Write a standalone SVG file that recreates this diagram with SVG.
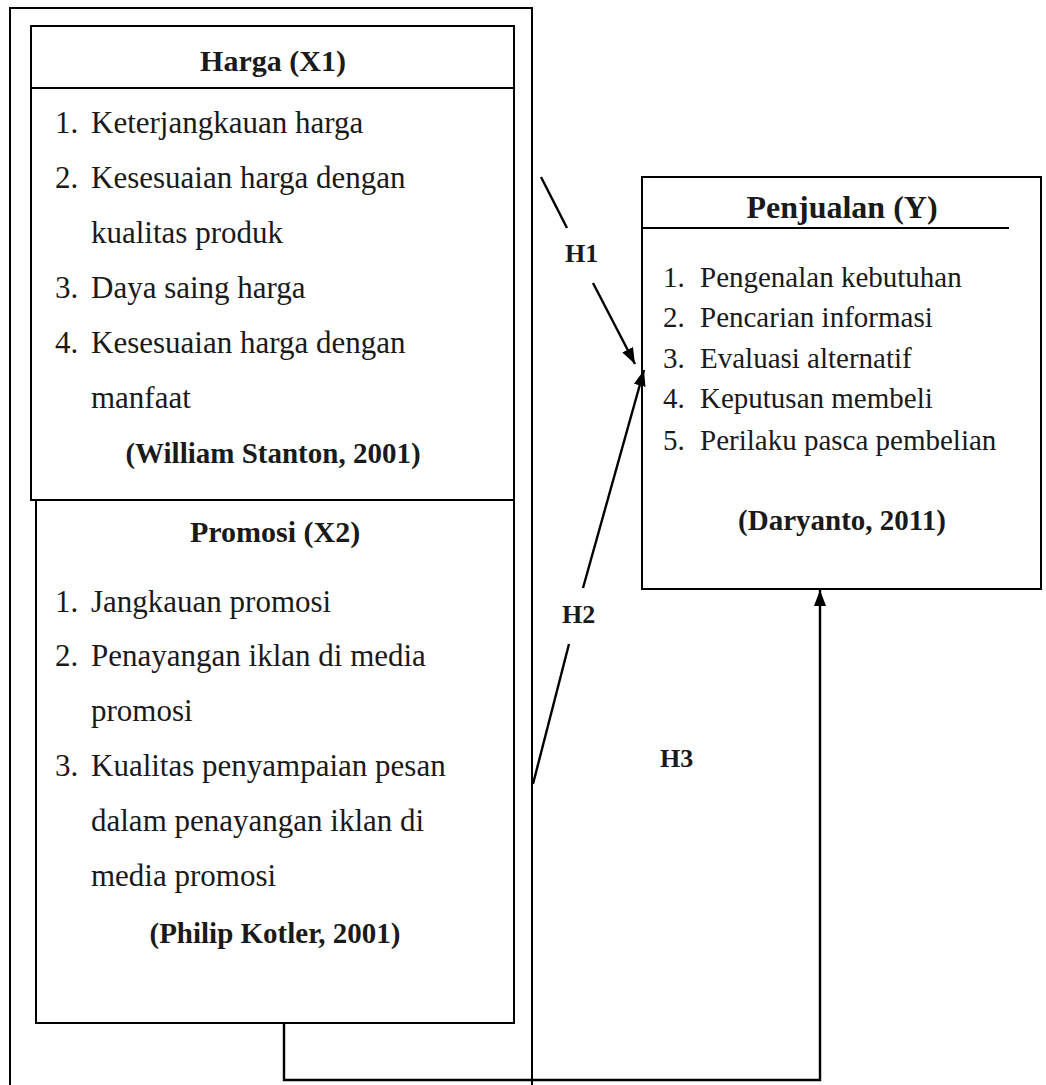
<svg xmlns="http://www.w3.org/2000/svg" width="1046" height="1085" viewBox="0 0 1046 1085">
<defs>
<style>
.box{fill:none;stroke:#000;stroke-width:2}
.ln{fill:none;stroke:#000;stroke-width:2.4}
.t{font-family:"Liberation Serif","Times New Roman",serif;fill:#1a1a1a}
.it{font-size:31px}
.ir{font-size:29px}
.ttl{font-size:30px;font-weight:bold;text-anchor:middle}
.cit{font-size:29px;font-weight:bold;text-anchor:middle}
.h{font-size:26px;font-weight:bold}
</style>
<marker id="arr" viewBox="0 0 16 12" refX="16" refY="6" markerWidth="16" markerHeight="12" markerUnits="userSpaceOnUse" orient="auto">
<path d="M0,0 L16,6 L0,12 z" fill="#000"/>
</marker>
</defs>
<rect width="1046" height="1085" fill="#fff"/>
<g id="frame">
<path class="box" d="M10,1090 V8 H532 V1090"/>
</g>
<g id="harga">
<rect class="box" x="31" y="26" width="483" height="474"/>
<line class="box" x1="31" y1="88" x2="514" y2="88"/>
<text class="t ttl" x="273" y="71">Harga (X1)</text>
<text class="t it" x="55" y="133">1.</text><text class="t it" x="91" y="133">Keterjangkauan harga</text>
<text class="t it" x="55" y="188">2.</text><text class="t it" x="91" y="188">Kesesuaian harga dengan</text>
<text class="t it" x="91" y="243">kualitas produk</text>
<text class="t it" x="55" y="298">3.</text><text class="t it" x="91" y="298">Daya saing harga</text>
<text class="t it" x="55" y="353">4.</text><text class="t it" x="91" y="353">Kesesuaian harga dengan</text>
<text class="t it" x="91" y="408">manfaat</text>
<text class="t cit" x="273" y="463">(William Stanton, 2001)</text>
</g>
<g id="promosi">
<path class="box" d="M36,500 V1023 H514 V500"/>
<text class="t ttl" x="275" y="542">Promosi (X2)</text>
<text class="t it" x="55" y="612">1.</text><text class="t it" x="91" y="612">Jangkauan promosi</text>
<text class="t it" x="55" y="666">2.</text><text class="t it" x="91" y="666">Penayangan iklan di media</text>
<text class="t it" x="91" y="721">promosi</text>
<text class="t it" x="55" y="776">3.</text><text class="t it" x="91" y="776">Kualitas penyampaian pesan</text>
<text class="t it" x="91" y="831">dalam penayangan iklan di</text>
<text class="t it" x="91" y="886">media promosi</text>
<text class="t cit" x="275" y="943">(Philip Kotler, 2001)</text>
</g>
<g id="penjualan">
<path class="box" d="M1009,228 H642 M642,177 H1041 V589 H642 Z"/>
<text class="t ttl" x="842" y="218" style="font-size:32px">Penjualan (Y)</text>
<text class="t ir" x="663" y="287">1.</text><text class="t ir" x="700" y="287">Pengenalan kebutuhan</text>
<text class="t ir" x="663" y="327">2.</text><text class="t ir" x="700" y="327">Pencarian informasi</text>
<text class="t ir" x="663" y="368">3.</text><text class="t ir" x="700" y="368">Evaluasi alternatif</text>
<text class="t ir" x="663" y="408">4.</text><text class="t ir" x="700" y="408">Keputusan membeli</text>
<text class="t ir" x="663" y="450">5.</text><text class="t ir" x="700" y="450">Perilaku pasca pembelian</text>
<text class="t cit" x="842" y="530">(Daryanto, 2011)</text>
</g>
<g id="connectors">
<line class="ln" x1="541" y1="177" x2="567" y2="228"/>
<line class="ln" x1="593" y1="283" x2="635" y2="364" marker-end="url(#arr)"/>
<line class="ln" x1="533" y1="784" x2="569" y2="644"/>
<line class="ln" x1="583" y1="588" x2="644" y2="370" marker-end="url(#arr)"/>
<path class="ln" d="M284,1023 V1080 H820 V590" marker-end="url(#arr)"/>
</g>
<g id="labels">
<text class="t h" x="565" y="262">H1</text>
<text class="t h" x="562" y="623">H2</text>
<text class="t h" x="660" y="767">H3</text>
</g>
</svg>
